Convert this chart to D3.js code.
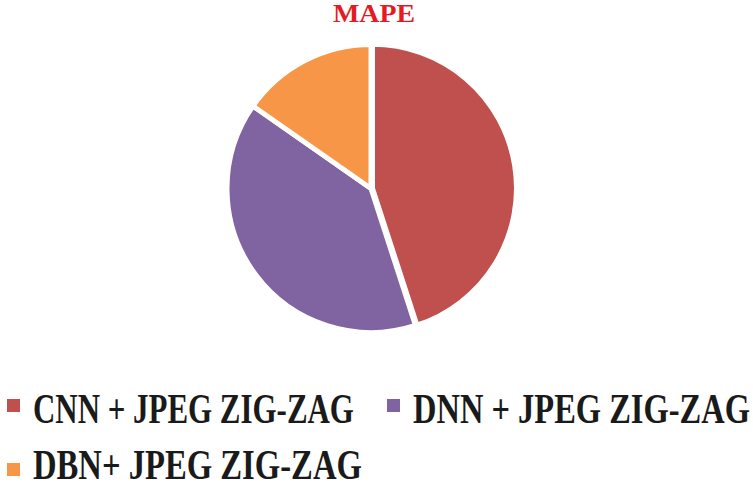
<!DOCTYPE html>
<html>
<head>
<meta charset="utf-8">
<script src="https://cdn.jsdelivr.net/npm/d3@7"></script>
<style>
  html, body { margin: 0; padding: 0; background: #fff; }
  svg { display: block; }
</style>
</head>
<body>
<script>
const title = "MAPE";
const categories = ["CNN + JPEG ZIG-ZAG", "DNN + JPEG ZIG-ZAG", "DBN+ JPEG ZIG-ZAG"];
const values = [45, 39.7, 15.3];
const colors = ["#C0504D", "#8064A2", "#F79646"];

const W = 753, H = 487;
const svg = d3.select("body").append("svg").attr("width", W).attr("height", H);

const cx = 371, cy = 188.5, r = 144;

const pie = d3.pie().sort(null).value(d => d.v);
const arc = d3.arc().innerRadius(0).outerRadius(r);
const data = categories.map((c, i) => ({c, v: values[i], col: colors[i]}));
const arcs = pie(data);

const g = svg.append("g").attr("transform", `translate(${cx},${cy})`);
g.selectAll("path").data(arcs).enter().append("path")
  .attr("d", arc)
  .attr("fill", d => d.data.col)
  .attr("stroke", "#fff")
  .attr("stroke-width", 5)
  .attr("stroke-linejoin", "miter")
  .attr("transform", (d, i) => {
    if (i !== 0) return null;
    const a = (d.startAngle + d.endAngle) / 2;
    const off = 1.5;
    return `translate(${off * Math.sin(a)},${-off * Math.cos(a)})`;
  });

function fitText(sel, x, y, width) {
  const n = sel.node();
  const w = n.getComputedTextLength();
  sel.attr("transform", `translate(${x},${y}) scale(${width / w},1)`);
}

const t = svg.append("text")
  .style("font-family", "'Liberation Serif', 'DejaVu Serif', serif")
  .style("font-weight", "bold")
  .style("font-size", "25px")
  .attr("fill", "#E51B23")
  .text(title);
fitText(t, 333, 22, 82);

// legend
const legendPos = [
  {mx: 7, my: 399, tx: 33, ty: 423, tl: 321},
  {mx: 387, my: 399, tx: 413, ty: 423, tl: 337},
  {mx: 7, my: 463, tx: 33, ty: 479, tl: 329}
];
const lg = svg.append("g");
data.forEach((d, i) => {
  const p = legendPos[i];
  lg.append("rect").attr("x", p.mx).attr("y", p.my).attr("width", 13).attr("height", 13).attr("fill", d.col);
  const tt = lg.append("text")
    .style("font-family", "'Liberation Serif', 'DejaVu Serif', serif")
    .style("font-weight", "bold")
    .style("font-size", "42px")
    .attr("fill", "#1a1a1a")
    .text(d.c);
  fitText(tt, p.tx, p.ty, p.tl);
});
</script>
</body>
</html>
